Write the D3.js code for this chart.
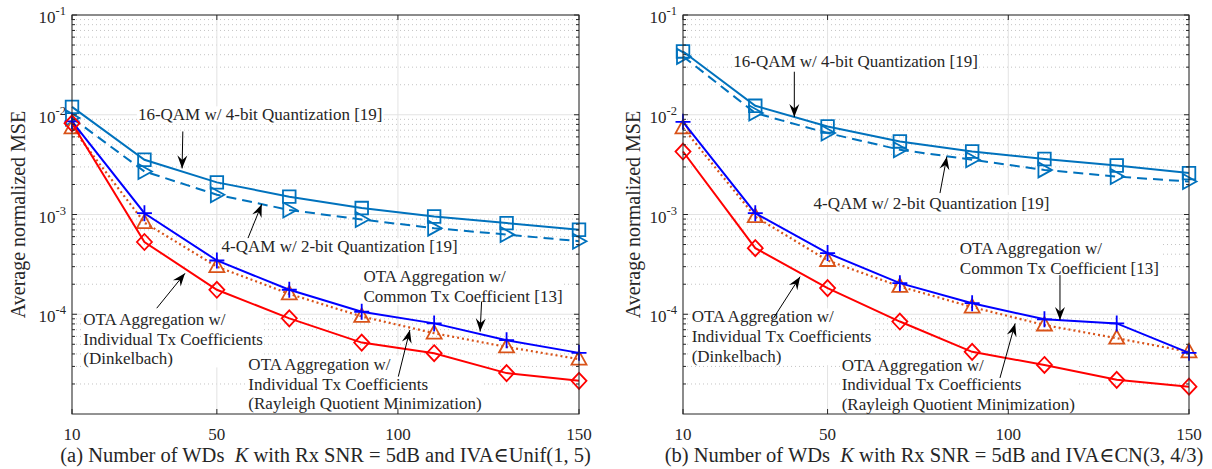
<!DOCTYPE html>
<html>
<head>
<meta charset="utf-8">
<script src="https://cdn.jsdelivr.net/npm/d3@7"></script>
<style>
  body { margin: 0; background: #fff; }
  svg text { font-family: "Liberation Serif", Tinos, "Times New Roman", Times, "Nimbus Roman", "DejaVu Serif", serif; fill: #262626; }
</style>
</head>
<body>
<svg id="chart" width="1212" height="469"></svg>
<script>
// x values (number of WDs K) and axis ticks
const kValues = [10, 30, 50, 70, 90, 110, 130, 150];
const xTicks = [10, 50, 100, 150];
const yTicks = [1e-4, 1e-3, 1e-2, 1e-1];
const yTickExps = ["-4", "-3", "-2", "-1"];

// panel (a): IVA ~ Unif(1,5)
const qam16A = [0.0120, 0.00354, 0.00210, 0.00151, 0.00116, 0.000955, 0.00082, 0.000703];
const qam4A = [0.0093, 0.0027, 0.00158, 0.00111, 0.00089, 0.00073, 0.00063, 0.00054];
const commonA = [0.0086, 0.00103, 0.000346, 0.000176, 0.000106, 8.1e-5, 5.5e-5, 4.1e-5];
const rayleighA = [0.0074, 0.00083, 0.00030, 0.00016, 9.5e-5, 6.46e-5, 4.7e-5, 3.55e-5];
const dinkelA = [0.0082, 0.00053, 0.000176, 9.1e-5, 5.2e-5, 4.07e-5, 2.57e-5, 2.15e-5];

// panel (b): IVA ~ CN(3,4/3)
const qam16B = [0.0431, 0.0123, 0.00763, 0.0054, 0.00428, 0.0036, 0.0031, 0.0026];
const qam4B = [0.0385, 0.0104, 0.00655, 0.00446, 0.00354, 0.0028, 0.0024, 0.00214];
const commonB = [0.0085, 0.00103, 0.00041, 0.000205, 0.000129, 8.9e-5, 8.1e-5, 4.1e-5];
const rayleighB = [0.0074, 0.00095, 0.000346, 0.00019, 0.000118, 7.8e-5, 5.75e-5, 4.2e-5];
const dinkelB = [0.00428, 0.00046, 0.000183, 8.45e-5, 4.2e-5, 3.1e-5, 2.2e-5, 1.88e-5];

// annotation texts
const labelQam16 = ["16-QAM w/ 4-bit Quantization [19]"];
const labelQam4 = ["4-QAM w/ 2-bit Quantization [19]"];
const labelCommon = ["OTA Aggregation w/", "Common Tx Coefficient [13]"];
const labelDinkel = ["OTA Aggregation w/", "Individual Tx Coefficients", "(Dinkelbach)"];
const labelRayleigh = ["OTA Aggregation w/", "Individual Tx Coefficients", "(Rayleigh Quotient Minimization)"];

const seriesStyle = [
  { key: "qam16", color: "#0072BD", dash: null, marker: "square" },
  { key: "qam4", color: "#0072BD", dash: "10,6", marker: "triRight" },
  { key: "rayleigh", color: "#D95319", dash: "2,3", marker: "triUp" },
  { key: "common", color: "#0000FF", dash: null, marker: "plus" },
  { key: "dinkel", color: "#FF0000", dash: null, marker: "diamond" }
];

const markerPath = {
  square: "M-6.3,-6.3H6.3V6.3H-6.3Z",
  triRight: "M-6,-7.5L7.5,0L-6,7.5Z",
  triUp: "M0,-8L7.5,5.5L-7.5,5.5Z",
  diamond: "M0,-8L7.5,0L0,8L-7.5,0Z",
  plus: "M-7.5,0H7.5M0,-8V8"
};

const panels = [
  {
    left: 72, right: 579, yLabelX: 25, capShift: 0,
    caption: ["(a) Number of WDs  ", "K", " with Rx SNR = 5dB and IVA\u2208Unif(1, 5)"],
    data: { qam16: qam16A, qam4: qam4A, common: commonA, rayleigh: rayleighA, dinkel: dinkelA },
    notes: [
      { lines: labelQam16, at: [28.2, 1e-2], from: [40.6, 0.0068], to: [40.4, 0.0029] },
      { lines: labelQam4, at: [51.3, 4.75e-4], from: [58.6, 5.8e-4], to: [62.4, 1.27e-3] },
      { lines: labelCommon, at: [90.5, 2.38e-4], from: [123.1, 1.34e-4], to: [122.7, 6.7e-5] },
      { lines: labelDinkel, at: [13.1, 8.95e-5], from: [33.4, 1.15e-4], to: [41.2, 2.57e-4] },
      { lines: labelRayleigh, at: [58.7, 3.17e-5], from: [100.1, 2.37e-5], to: [103.3, 6.95e-5] }
    ]
  },
  {
    left: 683, right: 1189, yLabelX: 640, capShift: -2,
    caption: ["(b) Number of WDs  ", "K", " with Rx SNR = 5dB and IVA\u2208CN(3, 4/3)"],
    data: { qam16: qam16B, qam4: qam4B, common: commonB, rayleigh: rayleighB, dinkel: dinkelB },
    notes: [
      { lines: labelQam16, at: [23.9, 0.034], from: [40.8, 0.027], to: [40.8, 0.0095] },
      { lines: labelQam4, at: [46.1, 1.29e-3], from: [81.1, 1.64e-3], to: [83.0, 3.8e-3] },
      { lines: labelCommon, at: [86.6, 4.58e-4], from: [114.3, 2.47e-4], to: [114.3, 8.75e-5] },
      { lines: labelDinkel, at: [12.4, 9.44e-5], from: [35.0, 9.1e-5], to: [42.4, 2.38e-4] },
      { lines: labelRayleigh, at: [53.9, 3.1e-5], from: [97.7, 2.3e-5], to: [101.9, 8.1e-5] }
    ]
  }
];

const plotTop = 15, plotBottom = 414;
const svg = d3.select("#chart");

panels.forEach(function (p) {
  const x = d3.scaleLinear().domain([10, 150]).range([p.left, p.right]);
  const y = d3.scaleLog().domain([1e-5, 1e-1]).range([plotBottom, plotTop]);
  const g = svg.append("g");
  const gridLayer = g.append("g");
  const boxLayer = g.append("g");
  const seriesLayer = g.append("g");
  const noteLayer = g.append("g");

  // minor grid (dotted)
  const minor = [];
  [1e-5, 1e-4, 1e-3, 1e-2].forEach(function (d) {
    for (let m = 2; m <= 9; m++) minor.push(d * m);
  });
  gridLayer.selectAll(".minor").data(minor).enter().append("line")
    .attr("x1", p.left).attr("x2", p.right)
    .attr("y1", d => y(d)).attr("y2", d => y(d))
    .attr("stroke", "#c4c4c4").attr("stroke-width", 1)
    .attr("stroke-dasharray", "1,3");

  // major grid
  gridLayer.selectAll(".gy").data(yTicks).enter().append("line")
    .attr("x1", p.left).attr("x2", p.right)
    .attr("y1", d => y(d)).attr("y2", d => y(d))
    .attr("stroke", "#e3e3e3").attr("stroke-width", 1);
  gridLayer.selectAll(".gx").data(xTicks).enter().append("line")
    .attr("x1", d => x(d)).attr("x2", d => x(d))
    .attr("y1", plotTop).attr("y2", plotBottom)
    .attr("stroke", "#e3e3e3").attr("stroke-width", 1);

  // series
  seriesStyle.forEach(function (s) {
    const vals = p.data[s.key];
    const pts = kValues.map((k, i) => [k, vals[i]]);
    seriesLayer.append("path")
      .datum(pts)
      .attr("fill", "none")
      .attr("stroke", s.color)
      .attr("stroke-width", s.dash === "2,3" ? 2.2 : 2)
      .attr("stroke-dasharray", s.dash)
      .attr("d", d3.line().x(d => x(d[0])).y(d => y(d[1])));
    seriesLayer.selectAll(".m-" + s.key).data(pts).enter().append("path")
      .attr("transform", d => "translate(" + x(d[0]) + "," + y(d[1]) + ")")
      .attr("d", markerPath[s.marker])
      .attr("fill", "none")
      .attr("stroke", s.color)
      .attr("stroke-width", 1.8);
  });

  // axes box and ticks
  const axisColor = "#262626";
  g.append("rect")
    .attr("x", p.left).attr("y", plotTop)
    .attr("width", p.right - p.left).attr("height", plotBottom - plotTop)
    .attr("fill", "none").attr("stroke", axisColor).attr("stroke-width", 1);

  [p.left, p.right].forEach(function (edge, side) {
    const dir = side === 0 ? 1 : -1;
    g.selectAll(null).data(yTicks).enter().append("line")
      .attr("x1", edge).attr("x2", edge + dir * 5)
      .attr("y1", d => y(d)).attr("y2", d => y(d))
      .attr("stroke", axisColor);
    g.selectAll(null).data(minor).enter().append("line")
      .attr("x1", edge).attr("x2", edge + dir * 3)
      .attr("y1", d => y(d)).attr("y2", d => y(d))
      .attr("stroke", axisColor);
  });
  [plotBottom, plotTop].forEach(function (edge, side) {
    const dir = side === 0 ? -1 : 1;
    g.selectAll(null).data(xTicks).enter().append("line")
      .attr("x1", d => x(d)).attr("x2", d => x(d))
      .attr("y1", edge).attr("y2", edge + dir * 5)
      .attr("stroke", axisColor);
  });

  // tick labels
  g.selectAll(".xl").data(xTicks).enter().append("text")
    .attr("x", d => x(d)).attr("y", 440)
    .attr("text-anchor", "middle")
    .style("font-size", "17px")
    .text(d => d);

  yTicks.forEach(function (d, i) {
    const t = g.append("text")
      .attr("x", p.left - 6).attr("y", y(d) + 8)
      .attr("text-anchor", "end")
      .style("font-size", "17px");
    t.append("tspan").text("10");
    t.append("tspan").attr("dy", -8).style("font-size", "12.5px").text(yTickExps[i]);
  });

  // axis labels
  g.append("text")
    .attr("transform", "translate(" + p.yLabelX + "," + ((plotTop + plotBottom) / 2) + ") rotate(-90)")
    .attr("text-anchor", "middle")
    .style("font-size", "20px")
    .text("Average normalized MSE");

  const cap = g.append("text")
    .attr("x", (p.left + p.right) / 2 + p.capShift).attr("y", 462)
    .attr("text-anchor", "middle")
    .style("font-size", "20.5px")
    .attr("xml:space", "preserve");
  cap.append("tspan").text(p.caption[0]);
  cap.append("tspan").style("font-style", "italic").text(p.caption[1]);
  cap.append("tspan").text(p.caption[2]);

  // annotations: white box behind text (under the curves), text and arrow on top
  p.notes.forEach(function (n) {
    const txt = noteLayer.append("text")
      .attr("x", x(n.at[0])).attr("y", y(n.at[1]))
      .style("font-size", "17px");
    n.lines.forEach(function (line, i) {
      txt.append("tspan")
        .attr("x", x(n.at[0]))
        .attr("dy", i === 0 ? "0.33em" : "1.17em")
        .text(line);
    });
    const bb = txt.node().getBBox();
    boxLayer.append("rect").attr("fill", "#fff")
      .attr("x", bb.x - 1).attr("y", bb.y + 1).attr("width", bb.width + 2).attr("height", bb.height - 2);

    const x1 = x(n.from[0]), y1 = y(n.from[1]);
    const x2 = x(n.to[0]), y2 = y(n.to[1]);
    const ang = Math.atan2(y2 - y1, x2 - x1) * 180 / Math.PI;
    noteLayer.append("line")
      .attr("x1", x1).attr("y1", y1).attr("x2", x2).attr("y2", y2)
      .attr("stroke", "#000").attr("stroke-width", 1);
    noteLayer.append("path")
      .attr("transform", "translate(" + x2 + "," + y2 + ") rotate(" + ang + ")")
      .attr("d", "M0,0L-13,-5L-8.5,0L-13,5Z")
      .attr("fill", "#000");
  });
});
</script>
</body>
</html>
